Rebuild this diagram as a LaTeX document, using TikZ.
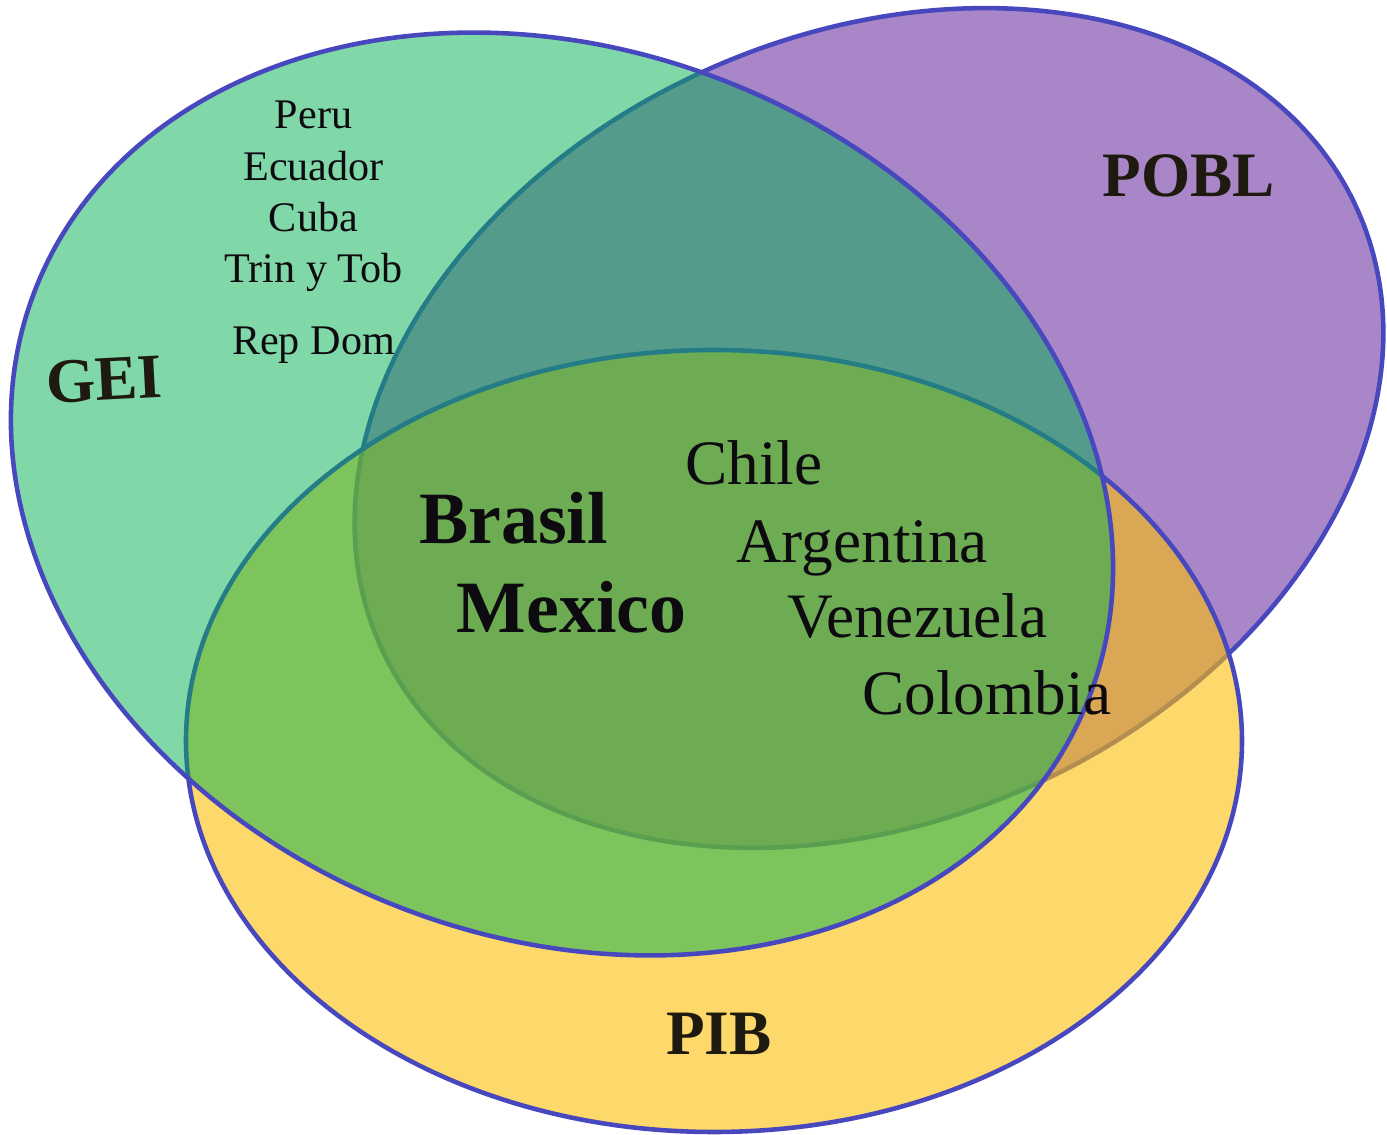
\documentclass[tikz,border=0pt]{standalone}
\usepackage{fontspec}
\setmainfont{Liberation Serif}
\usetikzlibrary{positioning}
\definecolor{geicol}{RGB}{1,177,81}
\definecolor{pibcol}{RGB}{252,190,7}
\definecolor{poblcol}{RGB}{169,134,200}
\definecolor{bordcol}{RGB}{72,72,190}
\definecolor{labcol}{RGB}{30,26,16}
\definecolor{txtcol}{RGB}{13,11,16}

\begin{document}
\begin{tikzpicture}[
  venn/.style={draw=bordcol,line width=1.3pt},
  setlab/.style={inner sep=0,anchor=base,text=labcol,font=\bfseries\fontsize{18}{20}\selectfont},
  small/.style={inner sep=0,anchor=base,text=txtcol,font=\fontsize{12}{14}\selectfont},
  big/.style={inner sep=0,anchor=base,text=txtcol,font=\fontsize{18}{20}\selectfont},
  bigb/.style={inner sep=0,anchor=base,text=txtcol,font=\bfseries\fontsize{21}{24}\selectfont}]
 \useasboundingbox (0,0) rectangle (13.87,-11.35);
 \coordinate (pobl) at (8.69,-4.28); %centro POBL
 \coordinate (pib) at (7.14,-7.41); %centro PIB
 \coordinate (gei) at (5.62,-4.94); %centro GEI

 \draw[venn,fill=poblcol,rotate around={24:(pobl)}] (pobl) ellipse (5.35 and 3.93);
 \draw[venn,fill=pibcol,fill opacity=0.6] (pib) ellipse (5.28 and 3.91);
 \draw[venn,fill=geicol,fill opacity=0.5,rotate around={-21:(gei)}] (gei) ellipse (5.65 and 4.44);

 \node[setlab,rotate=3] (lgei) at (1.055,-4.00) {GEI};
 \node[setlab] (lpobl) at (11.89,-1.97) {POBL};
 \node[setlab] (lpib) at (7.19,-10.55) {PIB};

 \foreach [count=\i] \name/\y in {Peru/1.29,Ecuador/1.81,Cuba/2.32,{Trin y Tob}/2.83,{Rep Dom}/3.55}
   \node[small] (g\i) at (3.135,-\y) {\name}; %solo GEI

 \node[bigb] (brasil) at (5.135,-5.44) {Brasil};
 \node[bigb] (mexico) at (5.715,-6.33) {Mexico};

 \node[big] (chile) at (7.54,-4.85) {Chile};
 \node[big] (arg) at (8.62,-5.63) {Argentina};
 \node[big] (ven) at (9.175,-6.38) {Venezuela};
 \node[big] (col) at (9.87,-7.15) {Colombia};
\end{tikzpicture}
\end{document}
